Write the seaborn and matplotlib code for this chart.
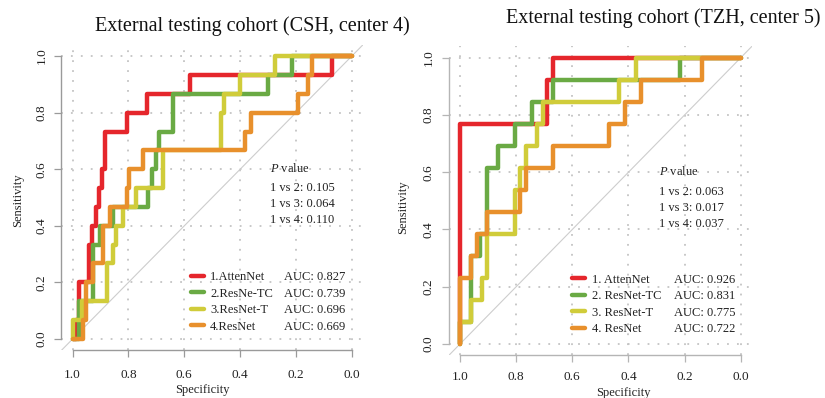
import numpy as np
import pandas as pd
import matplotlib
matplotlib.use("Agg")
import matplotlib.pyplot as plt
from matplotlib.lines import Line2D
import seaborn as sns

# ---------------- data ----------------
models = ["AttenNet", "ResNet-TC", "ResNet-T", "ResNet"]
colors = ["#E5262C", "#6AAA44", "#D0CC3A", "#E8902C"]

# Panel 1: CSH, center 4
csh_attennet_spec = [1.0, 0.989, 0.989, 0.977, 0.977, 0.940, 0.940, 0.929, 0.929, 0.917, 0.917, 0.905, 0.905,
                     0.896, 0.896, 0.884, 0.884, 0.806, 0.806, 0.735, 0.735, 0.579, 0.579, 0.072, 0.072, 0.0]
csh_attennet_sens = [0, 0, 0.067, 0.067, 0.2, 0.2, 0.333, 0.333, 0.4, 0.4, 0.467, 0.467, 0.533,
                     0.533, 0.6, 0.6, 0.733, 0.733, 0.8, 0.8, 0.867, 0.867, 0.933, 0.933, 1.0, 1.0]
csh_resnettc_spec = [1.0, 0.977, 0.977, 0.926, 0.926, 0.902, 0.902, 0.854, 0.854, 0.731, 0.731, 0.717, 0.717,
                     0.700, 0.700, 0.689, 0.689, 0.639, 0.639, 0.299, 0.299, 0.215, 0.215, 0.0]
csh_resnettc_sens = [0, 0, 0.133, 0.133, 0.333, 0.333, 0.4, 0.4, 0.467, 0.467, 0.533, 0.533, 0.6,
                     0.6, 0.667, 0.667, 0.733, 0.733, 0.867, 0.867, 0.933, 0.933, 1.0, 1.0]
csh_resnett_spec = [1.0, 1.0, 0.968, 0.968, 0.878, 0.878, 0.854, 0.854, 0.845, 0.845, 0.818, 0.818, 0.773,
                    0.773, 0.675, 0.675, 0.470, 0.470, 0.458, 0.458, 0.400, 0.400, 0.275, 0.275, 0.0]
csh_resnett_sens = [0, 0.067, 0.067, 0.133, 0.133, 0.267, 0.267, 0.333, 0.333, 0.4, 0.4, 0.467, 0.467,
                    0.533, 0.533, 0.667, 0.667, 0.8, 0.8, 0.867, 0.867, 0.933, 0.933, 1.0, 1.0]
csh_resnet_spec = [1.0, 0.964, 0.964, 0.952, 0.952, 0.926, 0.926, 0.890, 0.890, 0.866, 0.866, 0.806, 0.806,
                   0.797, 0.797, 0.749, 0.749, 0.382, 0.382, 0.362, 0.362, 0.194, 0.194, 0.158, 0.158,
                   0.143, 0.143, 0.0]
csh_resnet_sens = [0, 0, 0.067, 0.067, 0.2, 0.2, 0.267, 0.267, 0.4, 0.4, 0.467, 0.467, 0.533,
                   0.533, 0.6, 0.6, 0.667, 0.667, 0.733, 0.733, 0.8, 0.8, 0.867, 0.867, 0.933,
                   0.933, 1.0, 1.0]

# Panel 2: TZH, center 5
tzh_attennet_spec = [1.0, 1.0, 0.691, 0.691, 0.667, 0.667, 0.0]
tzh_attennet_sens = [0, 0.769, 0.769, 0.923, 0.923, 1.0, 1.0]
tzh_resnettc_spec = [1.0, 1.0, 0.961, 0.961, 0.929, 0.929, 0.903, 0.903, 0.863, 0.863, 0.804, 0.804,
                     0.745, 0.745, 0.667, 0.667, 0.216, 0.216, 0.0]
tzh_resnettc_sens = [0, 0.077, 0.077, 0.308, 0.308, 0.385, 0.385, 0.615, 0.615, 0.692, 0.692, 0.769,
                     0.769, 0.846, 0.846, 0.923, 0.923, 1.0, 1.0]
tzh_resnett_spec = [1.0, 1.0, 0.961, 0.961, 0.923, 0.923, 0.903, 0.903, 0.804, 0.804, 0.786, 0.786,
                    0.765, 0.765, 0.727, 0.727, 0.705, 0.705, 0.432, 0.432, 0.373, 0.373, 0.0]
tzh_resnett_sens = [0, 0.077, 0.077, 0.154, 0.154, 0.231, 0.231, 0.385, 0.385, 0.538, 0.538, 0.615,
                    0.615, 0.692, 0.692, 0.769, 0.769, 0.846, 0.846, 0.923, 0.923, 1.0, 1.0]
tzh_resnet_spec = [1.0, 1.0, 0.961, 0.961, 0.941, 0.941, 0.903, 0.903, 0.786, 0.786, 0.765, 0.765,
                   0.667, 0.667, 0.469, 0.469, 0.412, 0.412, 0.355, 0.355, 0.139, 0.139, 0.0]
tzh_resnet_sens = [0, 0.231, 0.231, 0.308, 0.308, 0.385, 0.385, 0.462, 0.462, 0.538, 0.538, 0.615,
                   0.615, 0.692, 0.692, 0.769, 0.769, 0.846, 0.846, 0.923, 0.923, 1.0, 1.0]

csh_labels = ["1.AttenNet", "2.ResNe-TC", "3.ResNet-T", "4.ResNet"]
csh_auc = ["AUC: 0.827", "AUC: 0.739", "AUC: 0.696", "AUC: 0.669"]
csh_pvals = ["1 vs 2: 0.105", "1 vs 3: 0.064", "1 vs 4: 0.110"]
tzh_labels = ["1. AttenNet", "2. ResNet-TC", "3. ResNet-T", "4. ResNet"]
tzh_auc = ["AUC: 0.926", "AUC: 0.831", "AUC: 0.775", "AUC: 0.722"]
tzh_pvals = ["1 vs 2: 0.063", "1 vs 3: 0.017", "1 vs 4: 0.037"]

ticks = [0.0, 0.2, 0.4, 0.6, 0.8, 1.0]
titles = ["External testing cohort (CSH, center 4)", "External testing cohort (TZH, center 5)"]

# ---------------- style ----------------
sns.set_theme(style="white")
plt.rcParams["font.family"] = ["Liberation Serif", "DejaVu Serif"]
plt.rcParams["mathtext.fontset"] = "custom"
plt.rcParams["mathtext.rm"] = "Liberation Serif"
plt.rcParams["mathtext.it"] = "Liberation Serif:italic"


def make_df(specs, senss):
    frames = []
    for m, sp, se in zip(models, specs, senss):
        frames.append(pd.DataFrame({"model": m, "spec": sp, "sens": se}))
    return pd.concat(frames, ignore_index=True)


panels = [
    dict(df=make_df([csh_attennet_spec, csh_resnettc_spec, csh_resnett_spec, csh_resnet_spec],
                    [csh_attennet_sens, csh_resnettc_sens, csh_resnett_sens, csh_resnet_sens]),
         pos=[0.0745, 0.1198, 0.3655, 0.7678], labels=csh_labels, auc=csh_auc, pvals=csh_pvals,
         leg1=(0.577, 0.240), leg2=(0.242, 0.240), ptext=(0.293, 0.604),
         xlab=(0.466, -0.13), ylab=(-0.144, 0.492), title=(252, 26), title_txt=titles[0],
         spine="#9a9a9a", xpad=8.5),
    dict(df=make_df([tzh_attennet_spec, tzh_resnettc_spec, tzh_resnett_spec, tzh_resnet_spec],
                    [tzh_attennet_sens, tzh_resnettc_sens, tzh_resnett_sens, tzh_resnet_sens]),
         pos=[0.544, 0.107, 0.3674, 0.7766], labels=tzh_labels, auc=tzh_auc, pvals=tzh_pvals,
         leg1=(0.600, 0.245), leg2=(0.236, 0.245), ptext=(0.29, 0.602),
         xlab=(0.575, -0.12), ylab=(-0.151, 0.48), title=(663, 18), title_txt=titles[1],
         spine="#b5b5b5", xpad=6.5),
]

W, H = 825, 398
fig = plt.figure(figsize=(W / 100, H / 100), dpi=100)

for p in panels:
    ax = fig.add_axes(p["pos"])
    ax.set_xlim(1.04, -0.04)
    ax.set_ylim(-0.04, 1.04)
    ax.set_xticks(ticks)
    ax.set_yticks(ticks)
    ax.set_xticklabels([f"{t:.1f}" for t in ticks])
    ax.set_yticklabels([f"{t:.1f}" for t in ticks], rotation=90, va="center")
    ax.grid(True, linestyle=(0, (1, 4.5)), color="#c4c4c4", linewidth=1.3)
    ax.set_axisbelow(True)
    ax.axline((1, 0), (0, 1), color="#cdcdcd", lw=0.8, zorder=1)

    sns.lineplot(data=p["df"], x="spec", y="sens", hue="model", hue_order=models,
                 palette=colors, sort=False, estimator=None, linewidth=3.2,
                 legend=False, ax=ax, zorder=3)

    for side in ["top", "right"]:
        ax.spines[side].set_visible(False)
    for side in ["left", "bottom"]:
        ax.spines[side].set_bounds(0, 1)
        ax.spines[side].set_color(p["spine"])
        ax.spines[side].set_linewidth(1.0)
    ax.tick_params(direction="out", length=5, width=0.9, color=p["spine"],
                   labelsize=9.5, labelcolor="#222222", pad=5, left=True, bottom=True)
    ax.tick_params(axis="x", pad=p["xpad"])

    ax.set_xlabel("Specificity", fontsize=9, color="#222222")
    ax.set_ylabel("Sensitivity", fontsize=9, color="#222222")
    ax.xaxis.set_label_coords(*p["xlab"])
    ax.yaxis.set_label_coords(*p["ylab"])
    ax.xaxis.label.set_va("center")
    ax.yaxis.label.set_va("center")

    # P values
    px, py = p["ptext"]
    ax.text(px, py, r"$\mathit{P}$ value", fontsize=9, va="center", ha="left", color="#222222")
    for i, t in enumerate(p["pvals"]):
        ax.text(px, py - 0.07 - i * 0.057, t, fontsize=9, va="center", ha="left", color="#222222")

    handles = [Line2D([], [], color=c, lw=3.2) for c in colors]
    leg1 = ax.legend(handles, p["labels"], loc="upper left", bbox_to_anchor=p["leg1"],
                     bbox_transform=ax.transData, frameon=False, borderpad=0, borderaxespad=0,
                     handlelength=1.05, handletextpad=0.5, labelspacing=0.36, fontsize=9)
    for t in leg1.get_texts():
        t.set_color("#222222")
    ax.add_artist(leg1)
    blanks = [Line2D([], [], alpha=0) for _ in colors]
    leg2 = ax.legend(blanks, p["auc"], loc="upper left", bbox_to_anchor=p["leg2"],
                     bbox_transform=ax.transData, frameon=False, borderpad=0, borderaxespad=0,
                     handlelength=0, handletextpad=0, labelspacing=0.36, fontsize=9)
    for t in leg2.get_texts():
        t.set_color("#222222")

    tx, ty = p["title"]
    fig.text(tx / W, 1 - ty / H, p["title_txt"], ha="center", va="center", fontsize=14.5, color="#111111")

fig.savefig("out.png", dpi=100)
